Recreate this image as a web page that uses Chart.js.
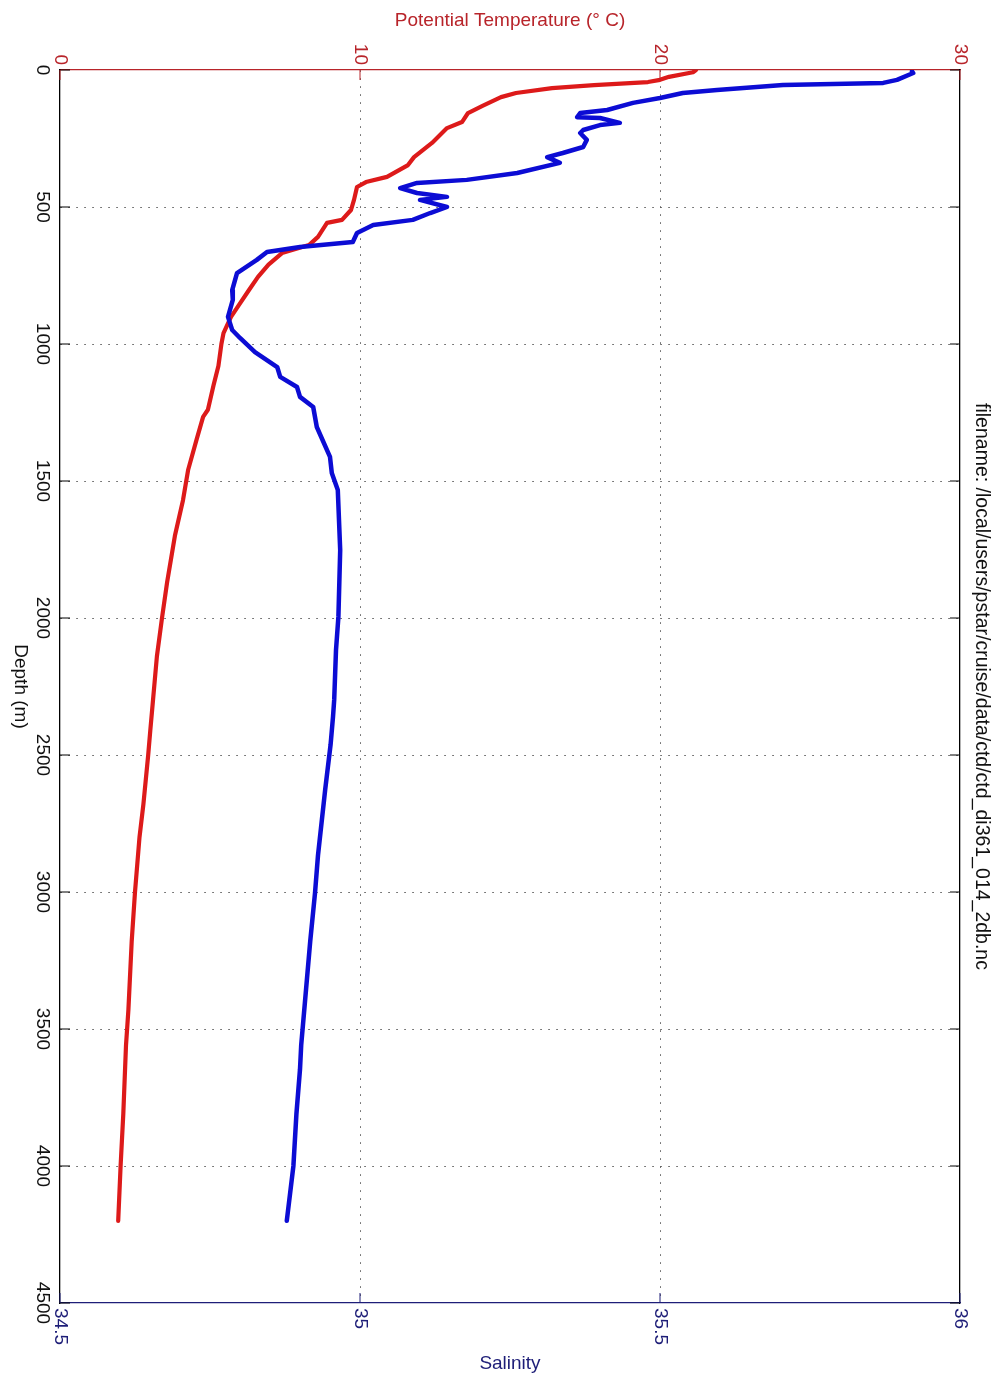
<!DOCTYPE html>
<html lang="en">
<head>
    <meta charset="UTF-8">
    <title>CTD profile - di361 014</title>
    <script src="https://cdn.jsdelivr.net/npm/chart.js"></script>
    <style>
        body {
            margin: 0;
            background: #fff;
        }
        canvas {
            display: block;
        }
    </style>
</head>
<body>

<canvas id="profileChart" width="998" height="1379"></canvas>

<script>
    // potential temperature profile (depth m / deg C)
    const tempDepth = [0, 8, 25, 36, 44, 55, 66, 84, 99, 130, 157, 190, 212, 266, 318, 347, 390, 409, 427, 474,
        511, 547, 558, 609, 639, 668, 710, 755, 803, 860, 901, 960, 1000, 1080, 1150, 1240, 1266, 1350, 1460, 1570,
        1700, 1870, 2000, 2140, 2300, 2410, 2500, 2680, 2800, 3000, 3180, 3430, 3560, 3810, 4000, 4200];
    const tempValues = [21.2, 21.1, 20.3, 20.0, 19.6, 17.8, 16.4, 15.2, 14.7, 14.1, 13.6, 13.4, 12.9, 12.4, 11.8, 11.6, 10.9, 10.2, 9.9, 9.8,
        9.7, 9.4, 8.9, 8.6, 8.3, 7.4, 6.95, 6.6, 6.3, 5.95, 5.7, 5.45, 5.38, 5.28, 5.12, 4.93, 4.77, 4.55, 4.27, 4.1,
        3.83, 3.57, 3.4, 3.23, 3.1, 3.01, 2.94, 2.78, 2.65, 2.5, 2.39, 2.28, 2.2, 2.11, 2.02, 1.94];

    // salinity profile (depth m / psu)
    const salDepth = [5, 11, 36, 47, 55, 73, 84, 102, 120, 146, 157, 172, 175, 193, 201, 219, 230, 255, 281, 303,
        318, 339, 376, 401, 412, 431, 449, 463, 474, 500, 522, 547, 566, 595, 628, 646, 664, 693, 741, 803,
        839, 901, 949, 978, 1030, 1084, 1120, 1157, 1193, 1230, 1303, 1412, 1471, 1533, 1752, 1996, 2117, 2299, 2361, 2462,
        2626, 2866, 3004, 3181, 3408, 3559, 3647, 3811, 4000, 4200];
    const salValues = [35.92, 35.922, 35.895, 35.872, 35.705, 35.595, 35.538, 35.5, 35.455, 35.412, 35.367, 35.362, 35.4, 35.433, 35.4, 35.372, 35.367, 35.378, 35.372, 35.338,
        35.312, 35.333, 35.262, 35.178, 35.095, 35.067, 35.095, 35.145, 35.1, 35.145, 35.117, 35.088, 35.022, 34.995, 34.988, 34.9, 34.845, 34.828, 34.795, 34.787,
        34.788, 34.78, 34.787, 34.8, 34.825, 34.862, 34.867, 34.895, 34.9, 34.922, 34.928, 34.95, 34.953, 34.963, 34.967, 34.964, 34.96, 34.957, 34.955, 34.951,
        34.942, 34.93, 34.925, 34.917, 34.908, 34.902, 34.9, 34.894, 34.889, 34.878];

    // tick labels
    const depthTicks = [0, 500, 1000, 1500, 2000, 2500, 3000, 3500, 4000, 4500];
    const tempTicks = [0, 10, 20, 30];
    const salTicks = [34.5, 35, 35.5, 36];

    const fileName = 'filename: /local/users/pstar/cruise/data/ctd/ctd_di361_014_2db.nc';

    const FONT = '"Liberation Sans", Arial, sans-serif';
    const RED_AXIS = '#b8242a';
    const NAVY_AXIS = '#1e1e78';

    const toPoints = (ys, xs) => ys.map((d, i) => ({x: xs[i], y: d}));

    // draw text turned 90 deg clockwise (reads top to bottom)
    function rotText(ctx, txt, x, y, align, color, size) {
        ctx.save();
        ctx.translate(x, y);
        ctx.rotate(Math.PI / 2);
        ctx.font = size + 'px ' + FONT;
        ctx.textAlign = align;
        ctx.textBaseline = 'middle';
        ctx.fillStyle = color;
        ctx.fillText(txt, 0, 0);
        ctx.restore();
    }

    function tick(ctx, x1, y1, x2, y2, color) {
        ctx.beginPath();
        ctx.strokeStyle = color;
        ctx.moveTo(x1, y1);
        ctx.lineTo(x2, y2);
        ctx.stroke();
    }

    // inward ticks, rotated labels and titles (matlab style)
    const labelPlugin = {
        id: 'matlabLabels',
        afterDraw(chart) {
            const ctx = chart.ctx;
            const {left, right, top, bottom} = chart.chartArea;
            const yS = chart.scales.y, tS = chart.scales.xT, sS = chart.scales.xS;
            ctx.save();
            ctx.lineWidth = 1;

            yS.ticks.forEach(t => {
                const py = yS.getPixelForValue(t.value);
                tick(ctx, left, py, left + 10, py, '#000');
                tick(ctx, right - 10, py, right, py, '#000');
                rotText(ctx, String(t.value), 42, py, 'center', '#111', 19);
            });
            tS.ticks.forEach(t => {
                const px = tS.getPixelForValue(t.value);
                tick(ctx, px, top, px, top + 10, RED_AXIS);
                rotText(ctx, String(t.value), px, 65, 'right', RED_AXIS, 19);
            });
            sS.ticks.forEach(t => {
                const px = sS.getPixelForValue(t.value);
                tick(ctx, px, bottom - 10, px, bottom, NAVY_AXIS);
                rotText(ctx, String(t.value), px, 1308, 'left', NAVY_AXIS, 19);
            });

            const midX = (left + right) / 2, midY = (top + bottom) / 2;
            ctx.font = '19px ' + FONT;
            ctx.textAlign = 'center';
            ctx.textBaseline = 'middle';
            ctx.fillStyle = RED_AXIS;
            ctx.fillText('Potential Temperature (\u00B0 C)', midX, 21);
            ctx.fillStyle = NAVY_AXIS;
            ctx.fillText('Salinity', midX, 1364);
            rotText(ctx, 'Depth (m)', 20, midY, 'center', '#111', 19);
            rotText(ctx, fileName, 981, midY, 'center', '#111', 19.5);
            ctx.restore();
        }
    };

    const dotted = [1.5, 6.5];
    const hideEdges = (lo, hi) => c => (c.tick.value === lo || c.tick.value === hi) ? 'rgba(0,0,0,0)' : '#555';

    new Chart(document.getElementById('profileChart'), {
        type: 'scatter',
        data: {
            datasets: [{
                label: 'Salinity',
                data: toPoints(salDepth, salValues),
                xAxisID: 'xS',
                yAxisID: 'y',
                showLine: true,
                borderColor: '#0c0cd4',
                borderWidth: 4.5,
                pointRadius: 0,
                borderJoinStyle: 'round',
                borderCapStyle: 'round'
            }, {
                label: 'Potential Temperature',
                data: toPoints(tempDepth, tempValues),
                xAxisID: 'xT',
                yAxisID: 'y',
                showLine: true,
                borderColor: '#dd1a1a',
                borderWidth: 4.2,
                pointRadius: 0,
                borderJoinStyle: 'round',
                borderCapStyle: 'round'
            }]
        },
        options: {
            responsive: false,
            animation: false,
            layout: {padding: 0},
            plugins: {
                legend: {display: false},
                tooltip: {enabled: false}
            },
            scales: {
                xT: {
                    type: 'linear',
                    position: 'top',
                    min: 0,
                    max: 30,
                    afterBuildTicks: s => { s.ticks = tempTicks.map(v => ({value: v})); },
                    afterFit: s => { s.height = 70; },
                    ticks: {display: false},
                    grid: {color: hideEdges(0, 30), lineWidth: 1, drawTicks: false},
                    border: {color: RED_AXIS, width: 1.3, dash: dotted}
                },
                xS: {
                    type: 'linear',
                    position: 'bottom',
                    min: 34.5,
                    max: 36,
                    afterBuildTicks: s => { s.ticks = salTicks.map(v => ({value: v})); },
                    afterFit: s => { s.height = 76; },
                    ticks: {display: false},
                    grid: {drawOnChartArea: false, drawTicks: false},
                    border: {color: NAVY_AXIS, width: 1.3}
                },
                y: {
                    type: 'linear',
                    position: 'left',
                    reverse: true,
                    min: 0,
                    max: 4500,
                    afterBuildTicks: s => { s.ticks = depthTicks.map(v => ({value: v})); },
                    afterFit: s => { s.width = 60; },
                    ticks: {display: false},
                    grid: {color: hideEdges(0, 4500), lineWidth: 1, drawTicks: false},
                    border: {color: '#000', width: 1.3, dash: dotted}
                },
                y2: {
                    type: 'linear',
                    position: 'right',
                    reverse: true,
                    min: 0,
                    max: 4500,
                    afterFit: s => { s.width = 38; },
                    ticks: {display: false},
                    grid: {drawOnChartArea: false, drawTicks: false},
                    border: {color: '#000', width: 1.3}
                }
            }
        },
        plugins: [labelPlugin]
    });
</script>
</body>
</html>
